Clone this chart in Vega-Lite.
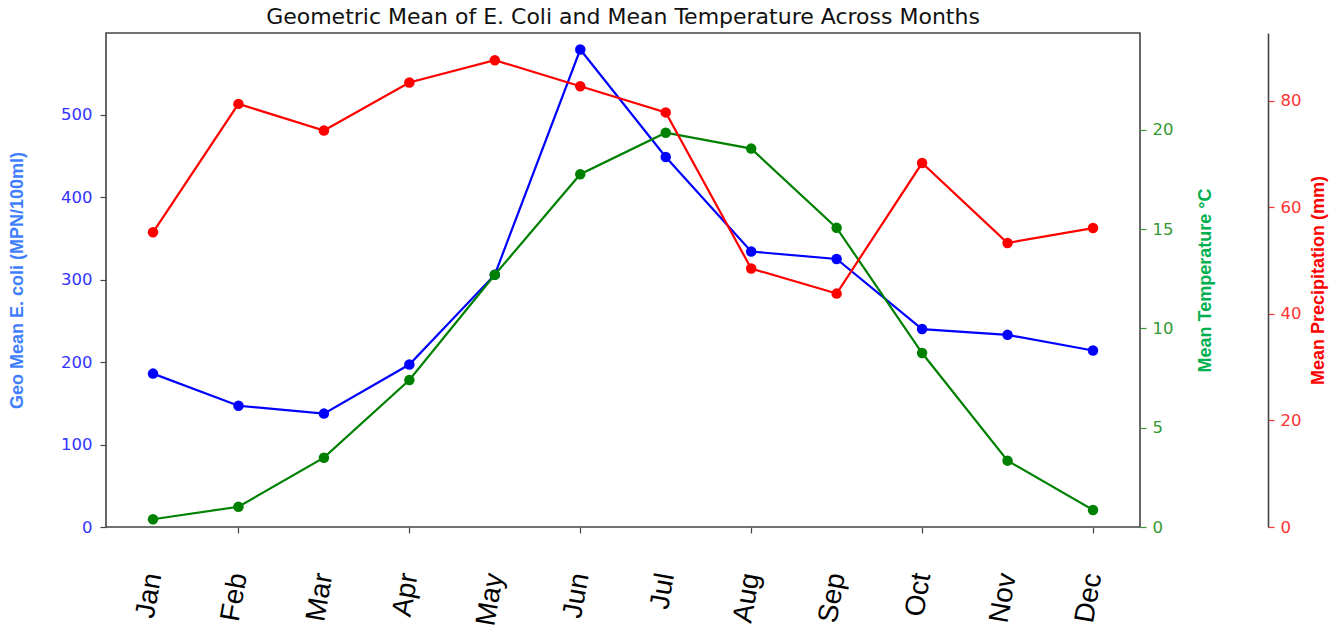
{
  "$schema": "https://vega.github.io/schema/vega-lite/v6.json",
  "autosize": {"type": "none"},
  "padding": {"left": 106, "top": 33, "right": 200, "bottom": 104},
  "width": 1034,
  "height": 494,
  "background": "white",
  "title": {
    "text": "Geometric Mean of E. Coli and Mean Temperature Across Months",
    "font": "DejaVu Sans",
    "fontSize": 22,
    "fontWeight": "normal",
    "color": "#111111",
    "anchor": "middle",
    "offset": 4
  },
  "config": {
    "view": {"stroke": "#444444", "strokeWidth": 1.6},
    "axis": {
      "labelFont": "DejaVu Sans",
      "labelFontSize": 16.5,
      "titleFont": "Liberation Sans",
      "titleFontSize": 18,
      "titleFontWeight": "bold",
      "grid": false,
      "tickSize": 6,
      "tickWidth": 1.2
    }
  },
  "data": {
    "values": [
      {"idx": 0, "month": "Jan", "ecoli": 186, "temp": 0.39, "precip": 55.3},
      {"idx": 1, "month": "Feb", "ecoli": 147, "temp": 1.02, "precip": 79.4},
      {"idx": 2, "month": "Mar", "ecoli": 137.5, "temp": 3.49, "precip": 74.4},
      {"idx": 3, "month": "Apr", "ecoli": 197, "temp": 7.4, "precip": 83.4},
      {"idx": 4, "month": "May", "ecoli": 306, "temp": 12.7, "precip": 87.6},
      {"idx": 5, "month": "Jun", "ecoli": 579, "temp": 17.76, "precip": 82.7},
      {"idx": 6, "month": "Jul", "ecoli": 448.6, "temp": 19.85, "precip": 77.8},
      {"idx": 7, "month": "Aug", "ecoli": 334, "temp": 19.05, "precip": 48.5},
      {"idx": 8, "month": "Sep", "ecoli": 325, "temp": 15.06, "precip": 43.8},
      {"idx": 9, "month": "Oct", "ecoli": 240, "temp": 8.76, "precip": 68.3},
      {"idx": 10, "month": "Nov", "ecoli": 233, "temp": 3.34, "precip": 53.3},
      {"idx": 11, "month": "Dec", "ecoli": 214, "temp": 0.86, "precip": 56.1}
    ]
  },
  "encoding": {
    "x": {
      "field": "idx",
      "type": "quantitative",
      "scale": {"domain": [-0.55, 11.55], "nice": false, "zero": false},
      "axis": {
        "title": null,
        "values": [0, 1, 2, 3, 4, 5, 6, 7, 8, 9, 10, 11],
        "labelExpr": "['Jan','Feb','Mar','Apr','May','Jun','Jul','Aug','Sep','Oct','Nov','Dec'][datum.value]",
        "labelFont": "Liberation Sans",
        "labelFontSize": 28,
        "labelColor": "#000000",
        "labelAngle": -80,
        "labelPadding": 40,
        "labelFlush": false,
        "labelOverlap": false,
        "domain": false,
        "tickColor": "#444444",
        "tickOpacity": {"condition": {"test": "datum.value % 2 == 1", "value": 1}, "value": 0}
      }
    }
  },
  "layer": [
    {
      "mark": {"type": "line", "color": "#0000ff", "strokeWidth": 2.2, "point": {"filled": true, "size": 110, "color": "#0000ff"}},
      "encoding": {
        "y": {
          "field": "ecoli",
          "type": "quantitative",
          "scale": {"domain": [0, 599], "nice": false},
          "axis": {
            "title": "Geo Mean E. coli (MPN/100ml)",
            "titleColor": "#3f7fff",
            "titlePadding": 34,
            "values": [0, 100, 200, 300, 400, 500],
            "labelColor": "#3333ff",
            "labelPadding": 8,
            "tickColor": "#444444",
            "domain": false
          }
        }
      }
    },
    {
      "mark": {"type": "line", "color": "#008000", "strokeWidth": 2.2, "point": {"filled": true, "size": 110, "color": "#008000"}},
      "encoding": {
        "y": {
          "field": "temp",
          "type": "quantitative",
          "scale": {"domain": [0, 24.87], "nice": false},
          "axis": {
            "orient": "right",
            "title": "Mean Temperature °C",
            "titleColor": "#00b050",
            "titleAngle": 270,
            "titlePadding": 42,
            "values": [0, 5, 10, 15, 20],
            "labelColor": "#339933",
            "labelPadding": 6,
            "tickColor": "#339933",
            "domain": false
          }
        }
      }
    },
    {
      "mark": {"type": "line", "color": "#ff0000", "strokeWidth": 2.2, "point": {"filled": true, "size": 110, "color": "#ff0000"}},
      "encoding": {
        "y": {
          "field": "precip",
          "type": "quantitative",
          "scale": {"domain": [0, 92.7], "nice": false},
          "axis": {
            "orient": "right",
            "offset": 128,
            "title": "Mean Precipitation (mm)",
            "titleColor": "#ff0000",
            "titleAngle": 270,
            "titlePadding": 27,
            "values": [0, 20, 40, 60, 80],
            "labelColor": "#ff3333",
            "labelPadding": 6,
            "tickColor": "#ff3333",
            "domain": true,
            "domainColor": "#444444",
            "domainWidth": 1.6
          }
        }
      }
    }
  ],
  "resolve": {"scale": {"y": "independent"}}
}
